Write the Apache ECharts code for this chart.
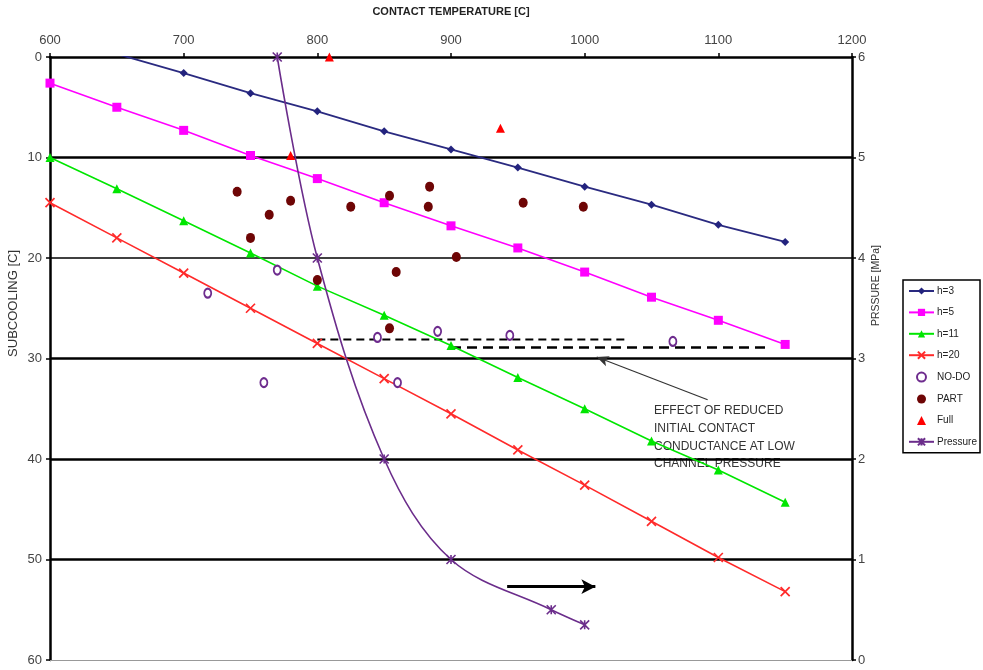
<!DOCTYPE html>
<html><head><meta charset="utf-8">
<script src="https://cdn.jsdelivr.net/npm/echarts@6/dist/echarts.min.js"></script>
<style>html,body{margin:0;padding:0;background:#fff}#c{width:983px;height:670px}</style>
</head><body><div id="c"></div>
<script>
// ---- data ----
const temps = [600,650,700,750,800,850,900,950,1000,1050,1100,1150];
const h3  = [null,-0.3,1.6,3.6,5.4,7.4,9.2,11.0,12.9,14.7,16.7,18.4];
const h5  = [2.6,5.0,7.3,9.8,12.1,14.5,16.8,19.0,21.4,23.9,26.2,28.6];
const h11 = [10.0,13.1,16.3,19.5,22.8,25.7,28.7,31.9,35.0,38.2,41.1,44.3];
const h20 = [14.5,18.0,21.5,25.0,28.5,32.0,35.5,39.1,42.6,46.2,49.8,53.2];
const noDo = [[718,23.5],[770,21.2],[760,32.4],[845,27.9],[890,27.3],[860,32.4],[944,27.7],[1066,28.3]];
const part = [[740,13.4],[764,15.7],[780,14.3],[750,18.0],[800,22.2],[825,14.9],[854,13.8],[884,12.9],[883,14.9],[954,14.5],[999,14.9],[904,19.9],[859,21.4],[854,27.0]];
const full = [[809,0],[937,7.1],[780,9.8]];
const pressureT = [770,800,850,900,975,1000];
const pressure  = [6.0,4.0,2.0,1.0,0.5,0.35];
const gridLevels = [10,20,30,40,50,60];
const dashUpper = [[800,28.1],[1033,28.1]];
const dashLower = [[900,28.9],[1138,28.9]];
const rightArrow = [[942,52.7],[1008,52.7]];
const noteArrow = [[1092,34.1],[1009,29.85]];
const xTicks = {min:600, max:1200, step:100};
const yTicks = {min:0, max:60, step:10};
const pTicks = {min:0, max:6, step:1};
const noteText = ['EFFECT OF REDUCED','INITIAL CONTACT','CONDUCTANCE AT LOW','CHANNEL PRESSURE'];

const pair = (xs, ys) => xs.map((x,i)=>[x, ys[i]]).filter(p=>p[1]!==null);
const FONT = 'Liberation Sans, Arial, sans-serif';
const X_PATH = 'path://M0,0L10,10M10,0L0,10';
const AST_PATH = 'path://M0,0L10,10M10,0L0,10M5,0L5,10';
const TRI_PATH = 'path://M5,0L10,10L0,10Z';
const plain = v => String(v);

const chart = echarts.init(document.getElementById('c'), null, {renderer:'canvas'});
const lineSeries = (name, ys, color, symbol, size, extra) => Object.assign({
  name, type:'line', data: pair(temps, ys), symbol, symbolSize:size,
  lineStyle:{color, width:1.6}, itemStyle:{color}, z:5, clip:true
}, extra||{});

chart.setOption({
  animation:false,
  backgroundColor:'#fff',
  textStyle:{fontFamily:FONT},
  grid:{left:50, right:131, top:57, bottom:10},
  xAxis:{type:'value', position:'top', min:xTicks.min, max:xTicks.max, interval:xTicks.step,
    name:'CONTACT TEMPERATURE [C]', nameLocation:'middle', nameGap:40,
    nameTextStyle:{fontSize:11, fontWeight:'bold', color:'#222', fontFamily:FONT},
    axisLine:{lineStyle:{color:'#000', width:2.5}},
    axisTick:{length:4, lineStyle:{color:'#000', width:1.5}},
    axisLabel:{fontSize:13, color:'#444', margin:10, fontFamily:FONT, formatter:plain},
    splitLine:{show:false}},
  yAxis:[
    {type:'value', inverse:true, min:yTicks.min, max:yTicks.max, interval:yTicks.step,
      axisLine:{show:true, onZero:false, lineStyle:{color:'#000', width:2.5}},
      axisTick:{show:true, length:4, lineStyle:{color:'#000', width:1.5}},
      axisLabel:{fontSize:13, color:'#444', margin:8, fontFamily:FONT, formatter:plain},
      splitLine:{show:false}},
    {type:'value', position:'right', min:pTicks.min, max:pTicks.max, interval:pTicks.step,
      axisLine:{show:true, onZero:false, lineStyle:{color:'#000', width:2.5}},
      axisTick:{show:true, length:4, lineStyle:{color:'#000', width:1.5}},
      axisLabel:{fontSize:13, color:'#444', margin:6, fontFamily:FONT, formatter:plain},
      splitLine:{show:false}}
  ],
  legend:{orient:'vertical', left:903, top:280, itemWidth:25, itemHeight:9, itemGap:11.4,
    padding:[6,3,6,5], borderColor:'#000', borderWidth:1.5, backgroundColor:'#fff',
    symbolKeepAspect:true,
    textStyle:{fontSize:10, color:'#222', fontFamily:FONT, padding:[0,0,0,-2]},
    data:['h=3','h=5','h=11','h=20','NO-DO','PART',{name:'Full', icon:TRI_PATH},'Pressure']},
  graphic:[
    {type:'text', left:7, top:250, rotation:Math.PI/2, style:{text:'SUBCOOLING [C]', font:'13px '+FONT, fill:'#333'}},
    {type:'text', left:871, top:245, rotation:Math.PI/2, style:{text:'PRSSURE [MPa]', font:'10.5px '+FONT, fill:'#333'}},
    {type:'text', left:654, top:402, style:{text:noteText.join('\n'), font:'12px '+FONT, fill:'#333', lineHeight:17.7}}
  ],
  series:[
    {name:'_grid', type:'line', data:[], z:1, silent:true,
      markLine:{silent:true, symbol:'none', label:{show:false},
        data: gridLevels.map(v=>({yAxis:v, lineStyle:{type:'solid', color: v===60?'#999':'#000', width: v===20?1.5:(v===60?1:2.5)}}))}},
    lineSeries('h=3', h3, '#23237e', 'diamond', 8, {lineStyle:{color:'#2a2a80', width:1.8}}),
    lineSeries('h=5', h5, '#ff00ff', 'rect', 9),
    lineSeries('h=11', h11, '#00e600', 'triangle', 9),
    lineSeries('h=20', h20, '#ff2a2a', X_PATH, 9, {itemStyle:{color:'rgba(0,0,0,0)', borderColor:'#ff2a2a', borderWidth:1.7}}),
    {name:'NO-DO', type:'scatter', data:noDo, symbol:'emptyCircle', symbolSize:[7,9], z:6,
      itemStyle:{color:'#6e2c8e', borderColor:'#6e2c8e', borderWidth:1.9, opacity:1}},
    {name:'PART', type:'scatter', data:part, symbol:'circle', symbolSize:[9,10], z:6, itemStyle:{color:'#6e0505', opacity:1}},
    {name:'Full', type:'scatter', data:full, symbol:'triangle', symbolSize:9, z:6, itemStyle:{color:'#ff0000', opacity:1}},
    {name:'Pressure', type:'line', yAxisIndex:1, data:pair(pressureT, pressure), smooth:0.35,
      symbol:AST_PATH, symbolSize:9, z:5, lineStyle:{color:'#6b2d8b', width:1.6},
      itemStyle:{color:'rgba(0,0,0,0)', borderColor:'#6b2d8b', borderWidth:1.6}},
    {name:'_dashU', type:'line', data:dashUpper, symbol:'none', z:4, silent:true,
      lineStyle:{color:'#000', width:2, type:[8,5]}},
    {name:'_dashL', type:'line', data:dashLower, symbol:'none', z:4, silent:true,
      lineStyle:{color:'#000', width:2.5, type:[10,6]}},
    {name:'_arrows', type:'line', data:[], z:7, silent:true,
      markLine:{silent:true, label:{show:false}, symbol:['none','arrow'],
        data:[
          [{coord:rightArrow[0], symbolSize:0}, {coord:rightArrow[1], symbolSize:[11,14], lineStyle:{color:'#000', width:3, type:'solid'}}],
          [{coord:noteArrow[0], symbolSize:0}, {coord:noteArrow[1], symbolSize:[8,12], lineStyle:{color:'#333', width:1.2, type:'solid'}}]
        ],
        lineStyle:{type:'solid'}}}
  ]
});
</script></body></html>
